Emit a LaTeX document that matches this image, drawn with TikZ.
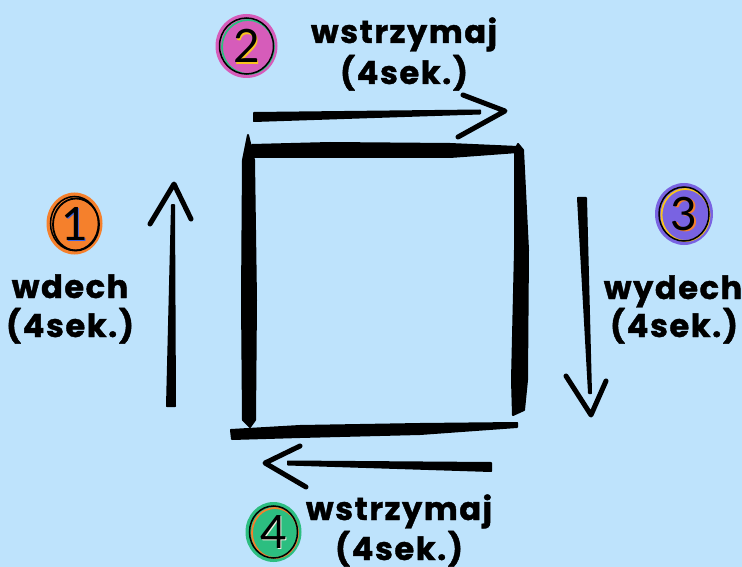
\documentclass[tikz,border=0pt]{standalone}
\usepackage{fontspec}
\setmainfont{Poppins}
\newfontfamily\lblfont{Poppins}[LetterSpace=5, BoldFeatures={FakeBold=1.2}]
\newfontfamily\digitfont{Lato}
\definecolor{bg}{RGB}{190,227,252}
\definecolor{cpink}{RGB}{214,92,186}
\definecolor{corange}{RGB}{245,128,44}
\definecolor{cpurple}{RGB}{121,99,226}
\definecolor{cgreen}{RGB}{44,190,128}
\definecolor{cyellow}{RGB}{247,196,30}
\definecolor{cblue}{RGB}{60,100,225}
\definecolor{ccream}{RGB}{245,240,225}
\tikzset{
  ink/.style={fill=black, draw=black, line width=2pt, line join=round},
  head/.style={draw=black, line width=5pt, line cap=round, line join=round},
  lbl/.style={font=\lblfont\fontsize{32}{32}\selectfont\bfseries, inner sep=0pt, anchor=base},
  digit/.style={font=\digitfont\fontsize{46}{46}\selectfont, inner sep=0pt},
}
\newcommand\hshaft[6]{\filldraw[ink] ({#1},{#2-#3/2}) -- ({#4},{#5-#6/2}) -- ({#4},{#5+#6/2}) -- ({#1},{#2+#3/2}) -- cycle;}
\newcommand\vshaft[6]{\filldraw[ink] ({#1-#3/2},{#2}) -- ({#4-#6/2},{#5}) -- ({#4+#6/2},{#5}) -- ({#1+#3/2},{#2}) -- cycle;}
\newcommand\badge[9]{%
  \fill[#6] (#2,#3) ellipse [x radius=#4, y radius=#5];
  \draw[#7, line width=1.8pt] ({#2+1.5},{#3+1}) ellipse [x radius=#4-5, y radius=#5-5];
  \draw[black, line width=1.5pt] (#2,#3) ellipse [x radius=#4-4, y radius=#5-4];
  \node[digit, text=#9] at ({#2+1.8},{#3+1.5}) {#8};
  \node[digit] (#1) at (#2,#3) {#8};
}
\begin{document}
\begin{tikzpicture}[x=1pt,y=-1pt]
\fill[bg] (0,0) rectangle (742,567);
\useasboundingbox (0,0) rectangle (742,567);

% square (brush strokes)
\filldraw[ink] (252,145) -- (330,143) -- (450,144) -- (518,147) -- (518,152) -- (450,157) -- (330,157) -- (252,157) -- cycle;
\filldraw[ink] (248,135) -- (254,160) -- (256,300) -- (255,420) -- (250,427) -- (243,420) -- (242,300) -- (243,160) -- cycle;
\filldraw[ink] (518,144) -- (523,150) -- (528,250) -- (527,380) -- (524,410) -- (513,415) -- (512,380) -- (515,250) -- (515,150) -- cycle;
\filldraw[ink] (231,430) -- (300,426) -- (420,424) -- (517,423) -- (517,427) -- (420,434) -- (300,437) -- (232,439) -- cycle;

% arrows
\hshaft{254}{117}{8}{480}{112}{3}
\draw[head] (463,95) -- (505,111) -- (458,137);
\vshaft{171}{406}{8}{173}{205}{2}
\draw[head] (150,224) -- (174,184) -- (191,219);
\vshaft{582}{198}{8}{590}{393}{2}
\draw[head] (566,376) -- (591,415) -- (606,381);
\hshaft{491}{467}{8}{288}{463}{3}
\draw[head] (300,446) -- (265,463) -- (306,487);

% badges
\badge{b2}{246.5}{46}{31}{32}{cpink}{cgreen}{2}{cyellow}
\badge{b1}{74.5}{223.5}{28}{31}{corange}{black}{1}{cblue}
\badge{b3}{684}{214}{29}{31}{cpurple}{cyellow}{3}{corange}
\badge{b4}{273.5}{532}{28}{30}{cgreen}{corange}{4}{ccream}

% labels
\node[lbl] (t2a) at (404,43) {wstrzymaj};
\node[lbl] (t2b) at (404,84) {(4sek.)};
\node[lbl] (t1a) at (70,298) {wdech};
\node[lbl] (t1b) at (70,337) {(4sek.)};
\node[lbl] (t3a) at (673,299) {wydech};
\node[lbl] (t3b) at (674,337) {(4sek.)};
\node[lbl] (t4a) at (399,520) {wstrzymaj};
\node[lbl] (t4b) at (399,560) {(4sek.)};
\end{tikzpicture}
\end{document}
